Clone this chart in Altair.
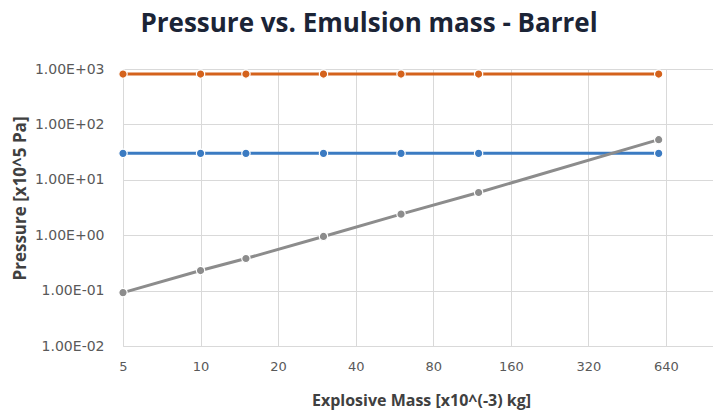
import altair as alt
import pandas as pd

# Data
mass = [5, 10, 15, 30, 60, 120, 600]
series_names = ["Series 1", "Series 2", "Series 3"]
blue_vals = [30, 30, 30, 30, 30, 30, 30]
orange_vals = [810, 810, 810, 810, 810, 810, 810]
grey_vals = [0.092, 0.23, 0.38, 0.95, 2.4, 5.9, 53]

x_ticks = [5, 10, 20, 40, 80, 160, 320, 640]
y_ticks = [0.01, 0.1, 1, 10, 100, 1000]

rows = []
for name, vals in zip(series_names, [blue_vals, orange_vals, grey_vals]):
    for i, (m, v) in enumerate(zip(mass, vals)):
        rows.append({"series": name, "mass": m, "pressure": v})
df = pd.DataFrame(rows)

colors = ["#3b7bc2", "#d4621c", "#8c8c8c"]

xenc = alt.X(
    "mass:Q",
    scale=alt.Scale(type="log", base=2, domain=[5, 975], nice=False),
    axis=alt.Axis(
        values=x_ticks,
        title="Explosive Mass [x10^(-3) kg]",
        titleX=298, titleY=54, titleAlign="center", titleBaseline="middle",
        titleFont="Open Sans", titleFontSize=16, titleFontWeight="bold", titleColor="#404040",
        labelFont="DejaVu Sans", labelFontSize=13, labelColor="#595959",
        labelPadding=14, labelFlush=False, ticks=False, domain=False,
        grid=True, gridColor="#d9d9d9", gridWidth=1,
    ),
)
yenc = alt.Y(
    "pressure:Q",
    scale=alt.Scale(type="log", domain=[0.01, 1000], nice=False),
    axis=alt.Axis(
        values=y_ticks,
        labelExpr="'1.00E' + (datum.value >= 1 ? '+' : '-') + '0' + abs(round(log(datum.value)/LN10))",
        title="Pressure [x10^5 Pa]",
        titleX=-103, titleY=129, titleAlign="center", titleBaseline="middle", titleAngle=270,
        titleFont="Open Sans", titleFontSize=17, titleFontWeight="bold", titleColor="#404040",
        labelFont="DejaVu Sans", labelFontSize=14, labelColor="#595959",
        labelPadding=19, labelFlush=False, ticks=False, domain=False,
        grid=True, gridColor="#d9d9d9", gridWidth=1,
    ),
)
color = alt.Color("series:N", scale=alt.Scale(domain=series_names, range=colors), legend=None)

base = alt.Chart(df)
lines = base.mark_line(strokeWidth=3).encode(x=xenc, y=yenc, color=color, detail="series:N")
points = base.mark_point(filled=True, size=70, opacity=1, stroke="white", strokeWidth=1.2).encode(
    x=xenc, y=yenc, fill=alt.Fill("series:N", scale=alt.Scale(domain=series_names, range=colors), legend=None)
)

chart = alt.layer(lines, points).properties(
    width=590,
    height=277,
    autosize=alt.AutoSizeParams(type="none"),
    padding={"left": 123, "top": 69, "right": 0, "bottom": 64},
    title=alt.TitleParams(
        "Pressure vs. Emulsion mass - Barrel",
        anchor="middle", dx=-49, offset=4, baseline="alphabetic",
        font="Open Sans", fontSize=26, fontWeight="bold", color="#1b2436",
    ),
).configure_view(stroke=None).configure(background="white")

chart.save("out.html", embed_options={"renderer": "svg", "actions": False})
